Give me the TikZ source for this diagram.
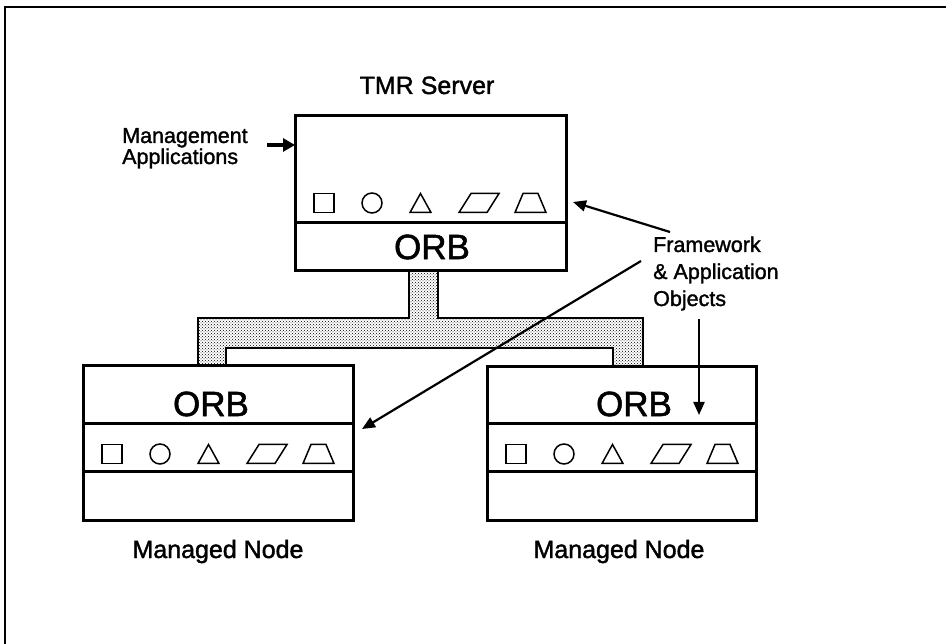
\documentclass[tikz,border=0pt]{standalone}
\usepackage{fontspec}
\setmainfont{Liberation Sans}[FakeBold=1.5]
\usetikzlibrary{arrows.meta,patterns}

% a row of the five object symbols; #1 = left edge of the box, #2 = row centre
\newcommand\objrow[2]{%
  \draw[symline] (#1+19,#2-9.5) rectangle (#1+39,#2+9.5);
  \draw[symline] (#1+77,#2) circle (10);
  \draw[symline] (#1+115,#2+9.5) -- (#1+136,#2+9.5) -- (#1+125.5,#2-9.5) -- cycle;
  \draw[symline] (#1+164,#2+9.5) -- (#1+192,#2+9.5) -- (#1+204,#2-9.5) -- (#1+176,#2-9.5) -- cycle;
  \draw[symline] (#1+220,#2+9.5) -- (#1+251,#2+9.5) -- (#1+243,#2-9.5) -- (#1+228,#2-9.5) -- cycle;
}

\tikzset{
  box/.style={draw, line width=3pt, fill=white, rectangle, inner sep=0pt, outer sep=0pt, anchor=north west},
  divider/.style={line width=3pt},
  symline/.style={line width=1.5pt},
  bus/.style={line width=2.5pt, pattern=crosshatch dots, pattern color=black},
  arr/.style={line width=4pt, -{Triangle[length=12pt,width=13pt]}},
  thinarr/.style={line width=2.2pt, -{Triangle[length=13pt,width=11pt]}},
  title/.style={font=\fontsize{25}{28}\selectfont, inner sep=0pt},
  orb/.style={font=\fontsize{35}{38}\selectfont, inner sep=0pt},
  lbl/.style={inner sep=0pt, align=left},
}

\begin{document}
\begin{tikzpicture}[x=1pt,y=-1pt]
  \useasboundingbox (0,0) rectangle (946,644);
  \clip (0,0) rectangle (946,644);
  \fill[white] (0,0) rectangle (946,644);

  % outer frame, running off the right and bottom edges
  \draw[line width=2pt] (5,7) rectangle (1000,700);

  % shaded connection bus between the three ORBs
  \draw[bus] (409,268) -- (409,318) -- (198,318) -- (198,370) -- (226,370)
    -- (226,348) -- (613,348) -- (613,370) -- (643,370) -- (643,318)
    -- (438,318) -- (438,268) -- cycle;

  % TMR server box
  \node[box, minimum width=271pt, minimum height=155pt] (tmr) at (295,116) {};
  \draw[divider] (tmr.west |- 0,223) -- (tmr.east |- 0,223);
  \objrow{295}{203}
  \node[orb] (orbT) at (432,247) {ORB};
  \node[title, anchor=base] (tmrlbl) at (427,94) {TMR Server};

  % left managed node
  \node[box, minimum width=270pt, minimum height=154pt] (mnL) at (83,366) {};
  \draw[divider] (mnL.west |- 0,424) -- (mnL.east |- 0,424);
  \draw[divider] (mnL.west |- 0,472) -- (mnL.east |- 0,472);
  \objrow{83}{454}
  \node[orb] (orbL) at (211,404) {ORB};
  \node[title, anchor=base] (mnLlbl) at (218,558) {Managed Node};

  % right managed node
  \node[box, minimum width=269pt, minimum height=153pt] (mnR) at (487,367) {};
  \draw[divider] (mnR.west |- 0,424) -- (mnR.east |- 0,424);
  \draw[divider] (mnR.west |- 0,472) -- (mnR.east |- 0,472);
  \objrow{487}{454}
  \node[orb] (orbR) at (634,404) {ORB};
  \node[title, anchor=base] (mnRlbl) at (619,558) {Managed Node};

  % management applications label and arrow (base = last line)
  \node[lbl, anchor=base west, font=\fontsize{21.5}{19}\selectfont] (mgmt) at (122,164)
    {Management\\Applications};
  \coordinate (mgmtA) at (267,145);
  \draw[arr] (mgmtA) -- (mgmtA -| tmr.west);

  % framework & application objects label and arrows (base = last line)
  \node[lbl, anchor=base west, font=\fontsize{21.5}{27}\selectfont] (fw) at (653,306)
    {Framework\\\& Application\\Objects};
  \coordinate (fwA) at (670,232);
  \coordinate (fwAend) at (573,202);
  \coordinate (fwB) at (641,261);
  \coordinate (fwBend) at (362,429);
  \coordinate (fwC) at (699,319);
  \coordinate (fwCend) at (699,415);
  \draw[thinarr] (fwA) -- (fwAend);
  \draw[thinarr] (fwB) -- (fwBend);
  \draw[thinarr] (fwC) -- (fwCend);
\end{tikzpicture}
\end{document}
